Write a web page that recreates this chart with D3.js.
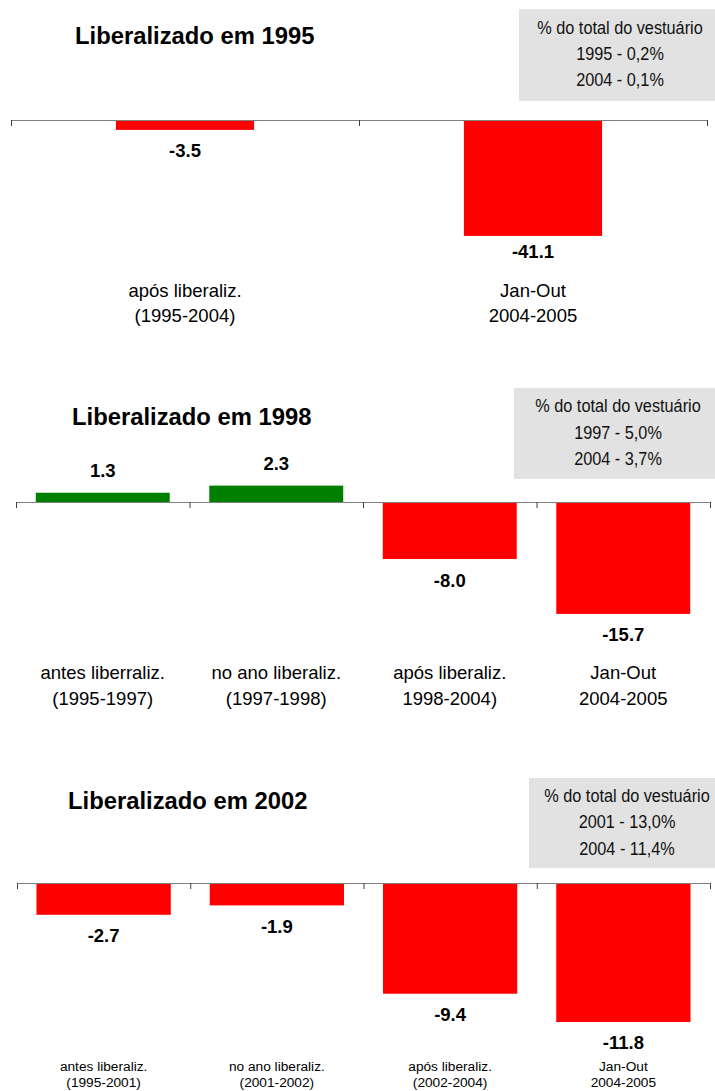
<!DOCTYPE html>
<html><head><meta charset="utf-8">
<script src="https://cdn.jsdelivr.net/npm/d3@7"></script>
<style>html,body{margin:0;padding:0;background:#fff;}svg{display:block;}</style>
</head><body>
<script>
// ---- data ----
const titles = ["Liberalizado em 1995", "Liberalizado em 1998", "Liberalizado em 2002"];
const boxTexts = [
  ["% do total do vestuário", "1995 - 0,2%", "2004 - 0,1%"],
  ["% do total do vestuário", "1997 - 5,0%", "2004 - 3,7%"],
  ["% do total do vestuário", "2001 - 13,0%", "2004 - 11,4%"]
];
const categories1 = [["após liberaliz.", "(1995-2004)"], ["Jan-Out", "2004-2005"]];
const values1 = [-3.5, -41.1];
const categories2 = [["antes liberraliz.", "(1995-1997)"], ["no ano liberaliz.", "(1997-1998)"], ["após liberaliz.", "1998-2004)"], ["Jan-Out", "2004-2005"]];
const values2 = [1.3, 2.3, -8.0, -15.7];
const categories3 = [["antes liberaliz.", "(1995-2001)"], ["no ano liberaliz.", "(2001-2002)"], ["após liberaliz.", "(2002-2004)"], ["Jan-Out", "2004-2005"]];
const values3 = [-2.7, -1.9, -9.4, -11.8];

// ---- layout ----
const W = 715, H = 1091;
const panels = [
  {cats: categories1, vals: values1, title: titles[0], box: boxTexts[0],
   axisY: 120, xr: [11, 707], pad: 0.603, ydom: [-45, 0], yr: [246.9, 120],
   titleX: 75, titleY: 44, boxR: [519, 9, 196, 92], boxCx: 620, boxLines: [28, 54, 80],
   catDy: [171, 196], catSize: 18.5, labelMax: 252},
  {cats: categories2, vals: values2, title: titles[1], box: boxTexts[1],
   axisY: 502, xr: [16, 710], pad: 0.228, ydom: [-18, 4], yr: [630.3, 473.5],
   titleX: 72, titleY: 425, boxR: [514, 388, 201, 91], boxCx: 618, boxLines: [406, 433, 459],
   catDy: [171, 197], catSize: 18.5, labelMax: 9999},
  {cats: categories3, vals: values3, title: titles[2], box: boxTexts[2],
   axisY: 883, xr: [17, 710], pad: 0.225, ydom: [-14, 0], yr: [1047.9, 883],
   titleX: 68, titleY: 809, boxR: [529, 778, 186, 90], boxCx: 627, boxLines: [796, 822, 849],
   catDy: [183, 199], catSize: 13.7, labelMax: 9999}
];

const fmt = d3.formatLocale({decimal: ".", thousands: ",", grouping: [3], currency: ["", ""], minus: "-"}).format(".1f");
const FONT = "Liberation Sans, Arial, Helvetica, sans-serif";

const svg = d3.select("body").append("svg").attr("width", W).attr("height", H);

panels.forEach(p => {
  const g = svg.append("g");
  const n = p.cats.length;
  const idx = d3.range(n);
  const x = d3.scaleBand().domain(idx).range(p.xr).paddingInner(p.pad).paddingOuter(p.pad / 2);
  const xl = d3.scaleLinear().domain([0, n]).range(p.xr);
  const y = d3.scaleLinear().domain(p.ydom).range(p.yr);

  // info box
  g.append("rect").attr("x", p.boxR[0]).attr("y", p.boxR[1]).attr("width", p.boxR[2]).attr("height", p.boxR[3])
    .attr("fill", "#e2e2e2");
  p.box.forEach((t, i) => {
    g.append("text").attr("transform", `translate(${p.boxCx},${p.boxLines[i]}) scale(0.88,1)`)
      .attr("dy", "0.35em").attr("text-anchor", "middle").attr("font-family", FONT)
      .attr("font-size", 18.5).attr("fill", "#111").text(t);
  });

  // title
  g.append("text").attr("x", p.titleX).attr("y", p.titleY).attr("font-family", FONT)
    .attr("font-weight", "bold").attr("font-size", 23.8).attr("fill", "#000").text(p.title);

  // bars
  g.selectAll("rect.bar").data(p.vals).join("rect").attr("class", "bar")
    .attr("x", (d, i) => x(i)).attr("width", x.bandwidth())
    .attr("y", d => Math.min(y(d), y(0))).attr("height", d => Math.abs(y(d) - y(0)))
    .attr("fill", d => d >= 0 ? "#008000" : "#ff0000");

  // axis
  const ax = g.append("g").attr("transform", `translate(0,${p.axisY})`)
    .call(d3.axisBottom(xl).tickValues(d3.range(n + 1)).tickSize(6).tickSizeOuter(0).tickFormat(""));
  ax.select(".domain").attr("stroke", "#808080").attr("stroke-width", 1);
  ax.selectAll(".tick line").attr("stroke", "#404040");

  // value labels
  g.selectAll("text.val").data(p.vals).join("text").attr("class", "val")
    .attr("x", (d, i) => x(i) + x.bandwidth() / 2)
    .attr("y", d => d >= 0 ? y(d) - 22 : Math.min(y(d) + 21, p.labelMax))
    .attr("dy", "0.35em").attr("text-anchor", "middle").attr("font-family", FONT)
    .attr("font-weight", "bold").attr("font-size", 18.5).attr("fill", "#000").text(d => fmt(d));

  // category labels
  p.cats.forEach((c, i) => {
    c.forEach((line, j) => {
      g.append("text").attr("x", x(i) + x.bandwidth() / 2).attr("y", p.axisY + p.catDy[j]).attr("dy", "0.35em")
        .attr("text-anchor", "middle").attr("font-family", FONT).attr("font-size", p.catSize)
        .attr("fill", "#000").text(line);
    });
  });
});
</script>
</body></html>
